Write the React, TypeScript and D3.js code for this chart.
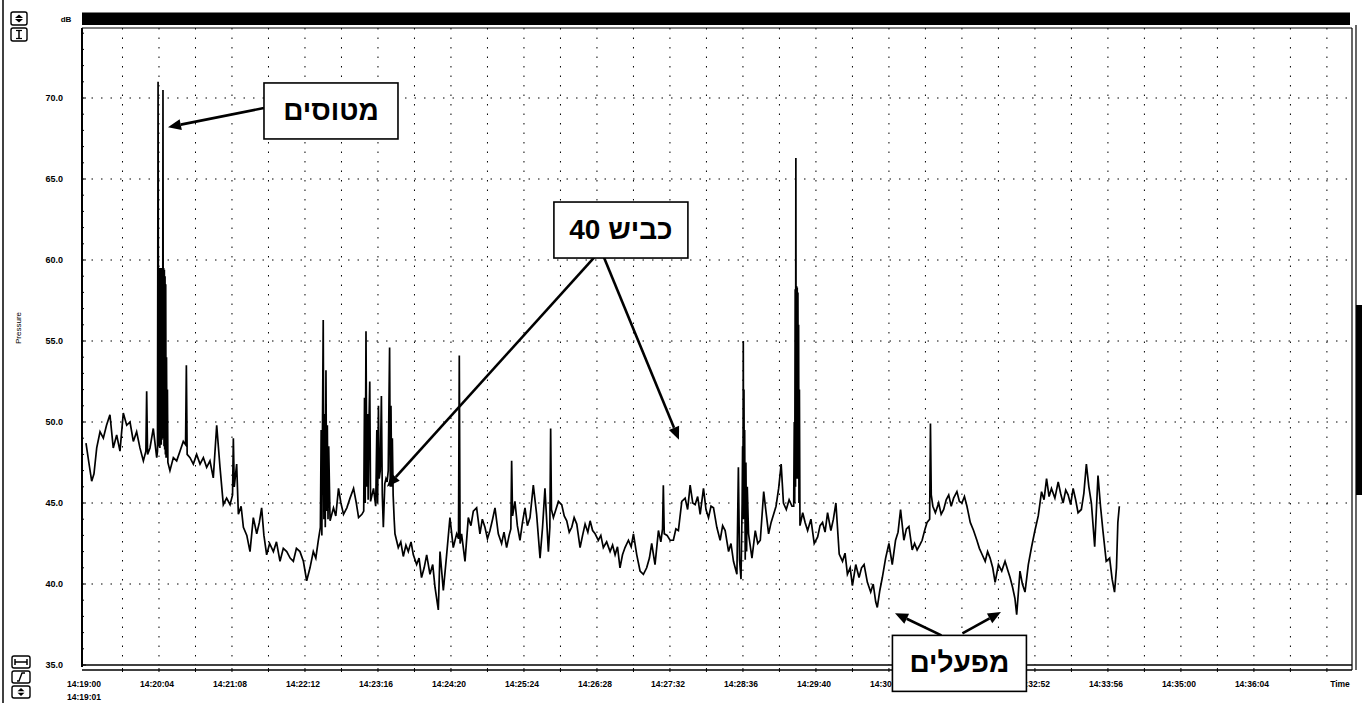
import React from "react";
import * as d3 from "d3";

// pressure trace: [seconds after 14:19:00, dB]
const readings: [number, number][] = [
  [0, 48.7], [2.5, 47.5], [5, 46.35], [7, 46.8], [9.4, 48.4], [12.3, 49.4], [15.2, 49.0], [18, 49.8],
  [21, 50.45], [23.9, 48.4], [26.9, 49.2], [29.8, 48.2], [32.7, 50.55], [35.7, 49.8], [38.6, 50.0],
  [41.5, 48.8], [44.4, 49.4], [47.3, 48.4], [50.3, 47.6], [52.5, 48.2], [53.2, 51.9], [54, 48.0],
  [56.1, 48.4], [59, 49.6], [62, 47.8],
  [62.7, 48.2], [63.2, 71.0], [63.6, 48.5], [63.9, 59.5], [64.2, 48.8], [64.5, 59.4], [64.8, 48.4],
  [65.1, 59.5], [65.4, 49.0], [65.7, 59.3], [66.0, 48.6], [66.3, 59.5], [66.6, 48.9], [66.9, 59.4],
  [67.2, 49.2], [67.5, 70.5], [67.8, 49.0], [68.1, 59.5], [68.4, 48.5], [68.7, 59.4], [69.0, 48.3],
  [69.3, 59.0], [69.6, 48.0], [69.9, 58.5], [70.2, 47.8], [70.6, 54], [71, 47.8], [71.4, 52],
  [71.8, 47.5],
  [73.6, 47.0], [76.6, 47.8], [79.5, 47.6], [82.4, 48.2], [85.3, 48.8], [87.3, 48.6], [88, 53.5],
  [88.7, 48.0], [91.2, 47.8], [94.1, 47.4], [97, 48.0], [100, 47.4], [102.9, 47.8], [105.8, 47.2],
  [108.7, 47.6], [111.6, 46.55], [114.6, 49.8], [117.5, 47.2], [120.4, 44.9], [123.3, 45.3],
  [126.3, 44.9], [128.5, 45.5], [129.2, 49.0], [130, 46], [132.1, 47.4], [133.6, 44.3], [136, 44.8],
  [138, 43.5], [141, 43.0], [143.8, 42.0], [146.7, 44.1], [149.7, 43.1], [152, 43.8], [154, 44.7],
  [156, 43.0], [158.4, 41.8], [161, 42.5], [164.3, 42.0], [167, 42.6], [170.1, 41.4], [173, 42.2],
  [176, 42.0], [179, 41.6], [181.8, 41.4], [184.5, 42.2], [187.6, 42.0], [190.6, 41.4], [193.5, 40.2],
  [196.4, 41.0], [199.3, 42.0], [201.5, 41.6], [203.7, 42.7],
  [205.5, 43.5], [206.2, 49.5], [206.8, 43.0], [207.4, 50.2], [208, 56.3], [208.6, 44], [209.2, 50.5],
  [209.8, 43.5], [210.4, 53.2], [211, 44.5], [211.6, 49.8], [212.2, 44], [212.8, 48.5],
  [214, 43.9], [217, 44.7], [219, 44.2], [221.4, 45.9], [223.5, 45.0], [225.8, 44.3], [228.7, 44.7],
  [231.5, 45.3], [234.6, 45.9], [237, 45.0], [239, 44.1], [241.9, 44.3],
  [243.5, 44.5], [244.2, 51.5], [244.8, 45], [245.5, 55.6], [246.2, 46], [246.8, 50.5], [247.4, 45.2],
  [248, 49.5], [248.8, 52.5], [249.5, 45.1], [252.1, 45.9], [254, 44.8], [255, 49.5], [255.7, 45],
  [256.4, 51.0], [257.1, 46.5], [258, 47], [259, 51.6], [259.8, 45.5], [260.7, 43.5], [262, 46.2],
  [263, 46.5], [264, 46.3], [265, 47], [265.6, 51], [266.2, 54.6], [266.8, 46], [267.4, 51],
  [268, 46], [268.6, 49], [269.3, 45.5], [270.2, 44],
  [270.9, 43.1], [273.8, 42.25], [276, 42.6], [278.2, 41.7], [280.5, 42.4], [282.6, 42.0], [285, 42.6],
  [287, 41.8], [289.9, 41.2], [292, 41.6], [294.2, 40.4], [296.5, 41.0], [298.7, 41.8], [301.6, 40.6],
  [304, 41.2], [306, 39.8], [308.9, 38.4], [310.4, 42.0], [313.3, 39.6], [316.2, 41.8], [319.1, 44.1],
  [322, 42.25], [325, 43.1], [326.6, 42.8], [327.3, 54.1], [328, 42.5], [329.3, 43.1], [332.3, 41.4],
  [335.2, 44.1], [337.5, 43.6], [339.6, 44.5], [342.5, 44.7], [345.4, 43.1], [347.5, 44.0],
  [349.8, 43.5], [352, 42.8], [354.2, 43.3], [356.5, 44.0], [358.6, 44.7], [361.5, 43.1], [364.4, 42.5],
  [366.5, 43.2], [368.8, 42.25], [371, 43.0], [372.5, 43.4], [373.2, 47.6], [374, 44.2], [376.1, 45.1],
  [378.2, 43.6], [380.5, 42.7], [382.7, 43.8], [384.9, 44.7], [387, 43.6], [389.3, 44.1], [392.2, 46.1],
  [395.1, 44.3], [398.1, 41.6], [400.3, 43.5], [402.4, 45.9], [405.4, 42.0], [406.7, 43.5],
  [407.4, 49.6], [408.1, 44.6], [409.8, 44.1], [412, 44.6], [414.2, 45.1], [417.1, 44.9], [419.3, 44.2],
  [421.5, 43.9], [423.7, 43.2], [425.9, 43.5], [428, 44.1], [430.3, 43.7], [433.2, 42.25], [435.4, 43.0],
  [437.6, 43.7], [440, 43.2], [442, 43.9], [444.2, 43.3], [446.4, 43.1], [449.2, 42.7], [451.4, 43.0],
  [453.6, 42.25], [456.5, 42.6], [459.5, 42.0], [461.7, 42.4], [463.9, 41.8], [466, 42.3], [468.2, 41.0],
  [470.4, 41.8], [472.6, 42.25], [475.6, 42.7], [478, 42.3], [480, 43.1], [482.9, 41.8], [485.8, 40.8],
  [488.7, 40.6], [491.6, 41.0], [494, 41.6], [496, 42.5], [498.9, 41.2], [501.9, 43.3], [504, 42.6],
  [505.5, 43.4], [506.2, 46.1], [507, 43.1], [509.5, 43.0], [512.1, 42.7], [515, 42.7], [517.2, 43.4],
  [519.4, 43.3], [522.4, 45.1], [525.3, 45.3], [527.5, 44.6], [529.7, 46.1], [532, 45.0], [534.1, 44.9],
  [536.3, 45.4], [538.5, 44.3], [541.4, 45.9], [543.6, 44.6], [545.8, 44.1], [548, 44.8], [550.2, 44.7],
  [553.1, 43.5], [556, 42.7], [558.2, 43.6], [560.4, 43.3], [563.4, 42.0], [565.5, 42.5], [567.7, 41.4],
  [570.7, 40.6], [572, 47.2], [573, 41.5], [574.3, 40.3], [575.3, 45], [575.7, 48.5], [576, 44.5],
  [576.3, 55.0], [576.6, 44], [576.9, 52], [577.2, 44.5], [577.5, 49.5], [578, 41.5], [578.6, 47.5],
  [579.2, 42], [579.8, 46], [580.9, 43.1],
  [583.9, 41.6], [586.8, 43.3], [589, 42.5], [591.2, 42.7], [594.2, 45.7], [596.3, 44.4], [598.5, 43.1],
  [600.7, 43.8], [602.9, 44.3], [605, 44.8], [607.3, 45.9], [609.5, 47.4], [611.5, 45.0], [614, 44.6],
  [616.5, 45.2], [619, 44.8], [620.5, 44.8], [621.0, 50], [621.4, 45], [621.8, 58.2], [622.1, 46],
  [622.4, 66.3], [622.7, 46.5], [623.0, 58.4], [623.3, 47], [623.6, 58.3], [623.9, 46.5], [624.2, 58.0],
  [624.5, 47], [624.8, 56], [625.1, 45], [625.5, 52], [626, 43.6], [628.4, 44.4],
  [630.5, 43.8], [632.7, 43.3], [635.6, 44.0], [638.5, 42.5], [641.5, 42.9], [643.6, 43.6], [645.8, 43.8],
  [648, 43.2], [650.2, 44.4], [653.1, 43.3], [655.3, 44.0], [657.5, 45.0], [660.4, 41.85], [663.3, 41.4],
  [665.5, 41.9], [667.6, 40.6], [670, 41.0], [672, 39.9], [674.9, 41.2], [677.8, 40.4], [680, 41.0],
  [682.2, 41.2], [685.1, 40.1], [688, 39.5], [690.2, 40.0], [692.4, 38.9], [693.8, 38.55], [696, 39.6],
  [698.2, 40.4], [701.1, 41.6], [704, 42.5], [706.9, 41.2], [709.8, 42.7], [712, 43.2], [714.2, 44.6],
  [717.1, 42.7], [719.3, 43.4], [721.5, 43.55], [724.4, 42.1], [726.5, 42.5], [728.7, 42.1], [731, 42.4],
  [733.1, 42.7], [735.3, 43.3], [737.4, 43.8], [739.7, 44.0], [740.4, 49.9], [741.1, 45.5], [742.5, 44.8],
  [744.7, 44.4], [747.6, 45.0], [749.8, 44.3], [752, 44.6], [754.2, 45.2], [756.4, 45.5], [758.6, 44.8],
  [760.7, 45.3], [763.6, 45.7], [765.8, 45.1], [768, 45.0], [770.2, 45.4], [772.4, 44.8], [775.3, 43.8],
  [778.2, 43.3], [781.1, 42.7], [783.3, 42.2], [785.5, 41.85], [788.4, 41.4], [790.5, 42.0], [792.7, 41.6],
  [795, 41.0], [797.1, 40.1], [800, 41.2], [802.9, 40.8], [805.8, 41.4], [808, 40.9], [810.2, 40.4],
  [812.4, 39.8], [814.5, 39.1], [816, 38.1], [818.9, 40.8], [821, 40.0], [823.3, 39.5], [826.2, 41.2],
  [829.1, 42.3], [832, 43.3], [834.9, 44.2], [837.8, 45.7], [840, 45.2], [842.2, 46.5], [844.4, 45.4],
  [846.5, 45.9], [849.5, 45.3], [852.4, 46.3], [854.5, 45.6], [856.7, 45.0], [859, 45.8], [861.1, 45.5],
  [863.3, 44.9], [865.5, 45.9], [867.7, 45.2], [869.8, 44.4], [872.7, 44.6], [874.9, 45.6], [877.1, 47.4],
  [879.3, 46.0], [881.5, 45.0], [884.4, 42.3], [887.3, 46.7], [889.5, 44.8], [891.6, 43.3], [894.5, 41.4],
  [897.5, 41.6], [899.7, 40.3], [901.8, 39.5], [903.5, 41.0], [904.7, 43.8], [906, 44.8],
];

const yTicks = [35, 40, 45, 50, 55, 60, 65, 70];
const timeLabels = [
  "14:19:00", "14:20:04", "14:21:08", "14:22:12", "14:23:16", "14:24:20", "14:25:24", "14:26:28",
  "14:27:32", "14:28:36", "14:29:40", "14:30:44", "14:31:48", "14:32:52", "14:33:56", "14:35:00",
  "14:36:04",
];
const labelStep = 64; // seconds between labelled ticks
const gridStep = 32;

// annotation boxes (centre) and arrow tips, in data coords [sec, dB]
const notes = [
  { text: "מטוסים", at: [214.8, 69.2], tips: [[71.9, 68.2]] },
  { text: "כביש 40", at: [469, 61.85], tips: [[263.9, 46.0], [519.9, 48.9]] },
  { text: "מפעלים", at: [765.8, 35.1], tips: [[709.3, 38.2], [802.2, 38.27]] },
];

const W = 1362;
const H = 703;
const left = 82, right = 1352, top = 28, bottom = 665;

const x = d3.scaleLinear().domain([-3.5, 1110]).range([left, right]);
const y = d3.scaleLinear().domain([35, 70]).range([bottom, 98]);

function Arrow({ x1, y1, x2, y2 }: { x1: number; y1: number; x2: number; y2: number }) {
  const a = Math.atan2(y2 - y1, x2 - x1);
  const L = 13, hw = 5.5;
  const bx = x2 - L * Math.cos(a), by = y2 - L * Math.sin(a);
  const pts = [
    [x2, y2],
    [bx + hw * Math.sin(a), by - hw * Math.cos(a)],
    [bx - hw * Math.sin(a), by + hw * Math.cos(a)],
  ];
  return (
    <g>
      <line x1={x1} y1={y1} x2={bx} y2={by} stroke="#000" strokeWidth={2.6} />
      <polygon points={pts.map((p) => p.join(",")).join(" ")} fill="#000" />
    </g>
  );
}

export default function App() {
  const line = d3
    .line<[number, number]>()
    .x((d) => x(d[0]))
    .y((d) => y(d[1]));

  const gridSecs = d3.range(gridStep, 1100, gridStep);
  const labelSecs = timeLabels.map((_, i) => i * labelStep);
  const minorY = d3.range(35, 74.5, 1);
  const sans = "'Liberation Sans', Arial, sans-serif";

  const boxW = 134, boxH = 56;

  return (
    <svg
      width={W}
      height={H}
      style={{ position: "absolute", left: 0, top: 0, background: "#fff" }}
      fontFamily={sans}
    >
      <rect width={W} height={H} fill="#fff" />

      {/* window chrome on the left */}
      <line x1={3} y1={0} x2={3} y2={H} stroke="#000" strokeWidth={1.5} />
      {[12, 28].map((yy, i) => (
        <g key={"ti" + i}>
          <rect x={11} y={yy} width={16} height={13} rx={2} fill="#fff" stroke="#000" strokeWidth={1.4} />
          {i === 0 ? (
            <>
              <polygon points={`${19},${yy + 2.5} ${15},${yy + 6} ${23},${yy + 6}`} fill="#000" />
              <polygon points={`${19},${yy + 10.5} ${15},${yy + 7} ${23},${yy + 7}`} fill="#000" />
            </>
          ) : (
            <>
              <line x1={19} y1={yy + 2.5} x2={19} y2={yy + 10.5} stroke="#000" strokeWidth={1.5} />
              <line x1={16} y1={yy + 2.5} x2={22} y2={yy + 2.5} stroke="#000" strokeWidth={1.2} />
              <line x1={16} y1={yy + 10.5} x2={22} y2={yy + 10.5} stroke="#000" strokeWidth={1.2} />
            </>
          )}
        </g>
      ))}
      {[656, 671, 686].map((yy, i) => (
        <g key={"bi" + i}>
          <rect x={12} y={yy} width={18} height={12} rx={2} fill="#fff" stroke="#000" strokeWidth={1.4} />
          {i === 0 && (
            <>
              <line x1={15} y1={yy + 6} x2={27} y2={yy + 6} stroke="#000" strokeWidth={1.5} />
              <line x1={15} y1={yy + 3} x2={15} y2={yy + 9} stroke="#000" strokeWidth={1.5} />
              <line x1={27} y1={yy + 3} x2={27} y2={yy + 9} stroke="#000" strokeWidth={1.5} />
            </>
          )}
          {i === 1 && (
            <path d={`M17,${yy + 10} L19,${yy + 10} L22,${yy + 2} L25,${yy + 2}`} fill="none" stroke="#000" strokeWidth={1.4} />
          )}
          {i === 2 && (
            <>
              <polygon points={`21,${yy + 2} 17.5,${yy + 5.3} 24.5,${yy + 5.3}`} fill="#000" />
              <polygon points={`21,${yy + 10} 17.5,${yy + 6.7} 24.5,${yy + 6.7}`} fill="#000" />
            </>
          )}
        </g>
      ))}

      {/* header bar */}
      <text x={66} y={22} fontSize={8} fontWeight="bold" textAnchor="middle">dB</text>
      <rect x={left} y={12.5} width={1268} height={12.5} fill="#000" />

      {/* grid */}
      {gridSecs.map((s) => (
        <line key={"vg" + s} x1={x(s)} x2={x(s)} y1={top} y2={bottom} stroke="#000" strokeWidth={1} strokeDasharray="1.5 8" />
      ))}
      {yTicks.slice(1).map((v) => (
        <line key={"hg" + v} x1={left} x2={right} y1={y(v)} y2={y(v)} stroke="#000" strokeWidth={1} strokeDasharray="1.5 8" />
      ))}

      {/* frame */}
      <line x1={left} x2={right} y1={top} y2={top} stroke="#000" strokeWidth={1.2} />
      <line x1={right} x2={right} y1={top} y2={bottom + 5} stroke="#000" strokeWidth={1.2} />
      <line x1={1356} x2={1356} y1={25} y2={bottom + 5} stroke="#000" strokeWidth={1.2} />
      <rect x={1356} y={305} width={6} height={190} fill="#000" />
      <line x1={left} x2={left} y1={top} y2={bottom + 2} stroke="#000" strokeWidth={2} />
      <line x1={left} x2={right} y1={bottom} y2={bottom} stroke="#000" strokeWidth={1.3} />
      <line x1={left} x2={right} y1={bottom + 5} y2={bottom + 5} stroke="#000" strokeWidth={1.3} />

      {/* y axis */}
      {minorY.map((v) => (
        <line key={"my" + v} x1={left} x2={left + (v % 5 === 0 ? 4 : 2)} y1={y(v)} y2={y(v)} stroke="#000" strokeWidth={1} />
      ))}
      {yTicks.map((v) => (
        <text key={"yl" + v} x={63} y={y(v) + 3} fontSize={9} fontWeight="bold" textAnchor="end">
          {v.toFixed(1)}
        </text>
      ))}
      <text transform="translate(21,328) rotate(-90)" fontSize={8} textAnchor="middle" fill="#000">Pressure</text>

      {/* x axis */}
      {gridSecs.map((s) => (
        <line key={"xt" + s} x1={x(s)} x2={x(s)} y1={bottom + 3} y2={bottom + 7} stroke="#000" strokeWidth={1} />
      ))}
      {labelSecs.map((s, i) => (
        <text key={"xl" + s} x={x(s) - 2} y={687} fontSize={8.5} fontWeight="bold" textAnchor="middle">
          {timeLabels[i]}
        </text>
      ))}
      <text x={x(0) - 2} y={700} fontSize={8.5} fontWeight="bold" textAnchor="middle">14:19:01</text>
      <text x={1340} y={687} fontSize={8.5} fontWeight="bold" textAnchor="middle">Time</text>

      {/* trace */}
      <path d={line(readings) || ""} fill="none" stroke="#000" strokeWidth={1.7} strokeLinejoin="miter" />

      {/* annotations */}
      {notes.map((n, i) => {
        const cx = x(n.at[0]);
        const cy = y(n.at[1]);
        const bx = cx - boxW / 2;
        const by = cy - boxH / 2;
        const starts =
          i === 0
            ? [[bx, cy - 3]]
            : i === 1
            ? [[cx - 20, by + boxH - 8], [cx - 20, by + boxH - 8]]
            : [[cx - 18, by], [cx + 3, by - 2]];
        return (
          <g key={"n" + i}>
            {n.tips.map((t, j) => (
              <Arrow key={j} x1={starts[j][0]} y1={starts[j][1]} x2={x(t[0])} y2={y(t[1])} />
            ))}
            <rect x={bx} y={by} width={boxW} height={boxH} fill="#fff" stroke="#000" strokeWidth={1.6} />
            <text
              x={cx}
              y={cy + 9}
              fontSize={28}
              fontWeight="bold"
              textAnchor="middle"
              direction="rtl"
              style={{ unicodeBidi: "embed" }}
            >
              {n.text}
            </text>
          </g>
        );
      })}
    </svg>
  );
}
